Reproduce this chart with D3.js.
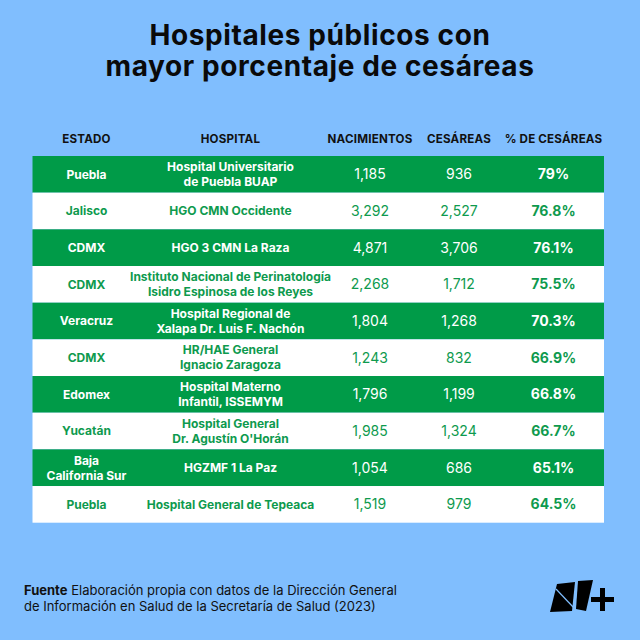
<!DOCTYPE html>
<html><head><meta charset="utf-8">
<script src="https://cdn.jsdelivr.net/npm/d3@7"></script>
<style>
html,body{margin:0;padding:0;background:#80BEFE;}
svg{display:block;}
</style></head>
<body>
<svg id="chart" width="640" height="640"></svg>
<script>
const title = ["Hospitales públicos con", "mayor porcentaje de cesáreas"];
const headers = ["ESTADO", "HOSPITAL", "NACIMIENTOS", "CESÁREAS", "% DE CESÁREAS"];
const estados = [["Puebla"], ["Jalisco"], ["CDMX"], ["CDMX"], ["Veracruz"], ["CDMX"], ["Edomex"], ["Yucatán"], ["Baja", "California Sur"], ["Puebla"]];
const hospitales = [
  ["Hospital Universitario", "de Puebla BUAP"],
  ["HGO CMN Occidente"],
  ["HGO 3 CMN La Raza"],
  ["Instituto Nacional de Perinatología", "Isidro Espinosa de los Reyes"],
  ["Hospital Regional de", "Xalapa Dr. Luis F. Nachón"],
  ["HR/HAE General", "Ignacio Zaragoza"],
  ["Hospital Materno", "Infantil, ISSEMYM"],
  ["Hospital General", "Dr. Agustín O'Horán"],
  ["HGZMF 1 La Paz"],
  ["Hospital General de Tepeaca"]
];
const nacimientos = [1185, 3292, 4871, 2268, 1804, 1243, 1796, 1985, 1054, 1519];
const cesareas = [936, 2527, 3706, 1712, 1268, 832, 1199, 1324, 686, 979];
const porcentajes = ["79%", "76.8%", "76.1%", "75.5%", "70.3%", "66.9%", "66.8%", "66.7%", "65.1%", "64.5%"];
const fuenteBold = "Fuente";
const fuente = [" Elaboración propia con datos de la Dirección General", "de Información en Salud de la Secretaría de Salud (2023)"];

const GREEN = "#009B48", TXTG = "#0E9A4E", BG = "#80BEFE";
const svg = d3.select("#chart");
const font = "Inter, 'Noto Sans', sans-serif";
svg.append("rect").attr("width", 640).attr("height", 640).attr("fill", BG);

// title
svg.append("g").selectAll("text").data(title).join("text")
  .attr("x", 320).attr("y", (d, i) => 45 + i * 31)
  .attr("text-anchor", "middle").attr("font-family", font).attr("font-weight", 700)
  .attr("font-size", 28).attr("fill", "#0a0a0a").attr("letter-spacing", "0.6px").text(d => d);

const rows = d3.range(estados.length);
const y = d3.scaleBand().domain(rows).range([156, 522.7]).padding(0);
const colX = d3.scaleOrdinal().domain(headers).range([86.5, 230.5, 370, 459, 553.5]);
const fmt = d3.format(",");

// header
svg.append("g").selectAll("text").data(headers).join("text")
  .attr("x", d => colX(d)).attr("y", 142.6)
  .attr("text-anchor", "middle").attr("font-family", font).attr("font-weight", 700)
  .attr("font-size", 11.6).attr("fill", "#111").attr("letter-spacing", "0.2px").text(d => d);

const rowG = svg.append("g").selectAll("g").data(rows).join("g")
  .attr("transform", d => `translate(0,${y(d)})`);
rowG.append("rect").attr("x", 32.5).attr("width", 604 - 32.5).attr("height", y.bandwidth())
  .attr("fill", d => d % 2 === 0 ? GREEN : "#FFFFFF");

const tc = d => d % 2 === 0 ? "#FFFFFF" : TXTG;
const mid = y.bandwidth() / 2;

function multiline(sel, getLines, x, size, weight) {
  sel.each(function(d) {
    const lines = getLines(d);
    const lh = 15;
    const t = d3.select(this).append("text").attr("text-anchor", "middle")
      .attr("font-family", font).attr("font-weight", weight).attr("font-size", size)
      .attr("fill", tc(d));
    lines.forEach((l, i) => {
      t.append("tspan").attr("x", x).attr("y", mid + (i - (lines.length - 1) / 2) * lh + size * 0.36).text(l);
    });
  });
}
multiline(rowG, d => estados[d], colX(headers[0]), 12, 700);
multiline(rowG, d => hospitales[d], colX(headers[1]), 12, 700);
multiline(rowG, d => [fmt(nacimientos[d])], colX(headers[2]), 14, 400);
multiline(rowG, d => [fmt(cesareas[d])], colX(headers[3]), 14, 400);
multiline(rowG, d => [porcentajes[d]], colX(headers[4]), 14, 700);

// footer
const ft = svg.append("text").attr("font-family", font).attr("font-size", 13).attr("fill", "#111");
const t1 = ft.append("tspan").attr("x", 24).attr("y", 595);
t1.append("tspan").attr("font-weight", 700).text(fuenteBold);
t1.append("tspan").attr("font-weight", 400).text(fuente[0]);
ft.append("tspan").attr("x", 24).attr("y", 611).text(fuente[1]);

// logo
const lg = svg.append("g");
lg.append("path").attr("d", "M557,584 L575,582 L572,611 L550,612 Z").attr("fill", "#000");
lg.append("path").attr("d", "M556,589 L574,608").attr("stroke", BG).attr("stroke-width", 1.2);
lg.append("path").attr("d", "M578,581 L593,580 L586,611 L576,609 Z").attr("fill", "#000");
lg.append("path").attr("d", "M600,588 h5 v9 h9 v5 h-9 v9 h-5 v-9 h-9 v-5 h9 Z").attr("fill", "#000");
</script>
</body></html>
